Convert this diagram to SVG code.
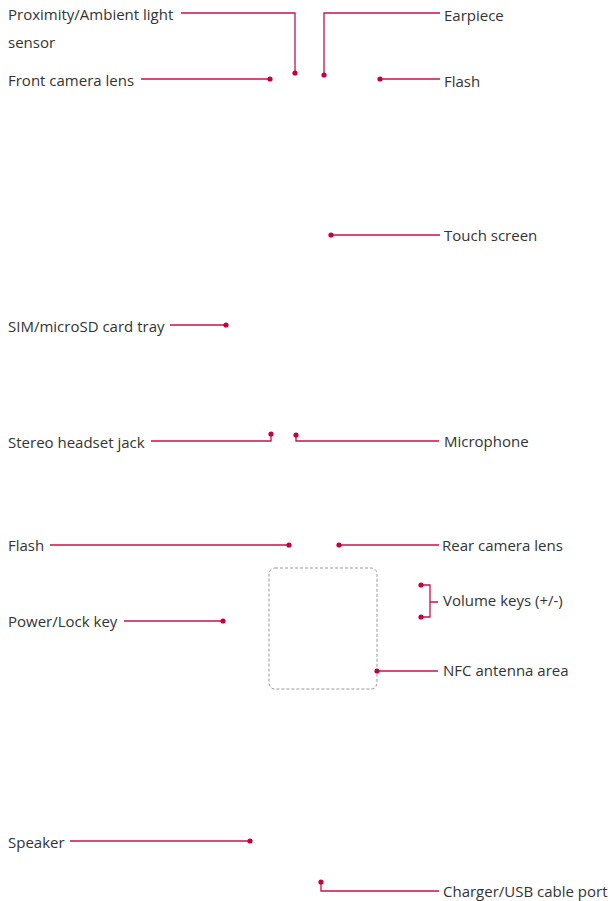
<svg xmlns="http://www.w3.org/2000/svg" width="612" height="901" viewBox="0 0 612 901">
<style>
.t{font-family:"Open Sans","Noto Sans",sans-serif;font-size:15px;fill:#333}
.c{fill:none;stroke:#c8104a;stroke-width:1.3}
.d{fill:#c4003f}
.nfc{fill:none;stroke:#999;stroke-width:1;stroke-dasharray:3 2}
</style>
<rect width="612" height="901" fill="#fff"/>
<g id="nfc-area"><rect class="nfc" x="269" y="568" width="108" height="121" rx="6"/></g>
<g id="connectors">
<path class="c" d="M181 13H295V73"/>
<path class="c" d="M141 79H270"/>
<path class="c" d="M440 13H324V75"/>
<path class="c" d="M380 79H440"/>
<path class="c" d="M331 235H440"/>
<path class="c" d="M170 325H226"/>
<path class="c" d="M151 441H271V434"/>
<path class="c" d="M296 435V441H439"/>
<path class="c" d="M50 545H289"/>
<path class="c" d="M339 545H439"/>
<path class="c" d="M421 585H430V617H421M430 602H438"/>
<path class="c" d="M124 621H223"/>
<path class="c" d="M377 671H438"/>
<path class="c" d="M70 841H250"/>
<path class="c" d="M321 882V891H439"/>
</g>
<g id="dots">
<circle class="d" cx="295" cy="73" r="2.6"/>
<circle class="d" cx="270" cy="79" r="2.6"/>
<circle class="d" cx="324" cy="75" r="2.6"/>
<circle class="d" cx="380" cy="79" r="2.6"/>
<circle class="d" cx="331" cy="235" r="2.6"/>
<circle class="d" cx="226" cy="325" r="2.6"/>
<circle class="d" cx="271" cy="434" r="2.6"/>
<circle class="d" cx="296" cy="435" r="2.6"/>
<circle class="d" cx="289" cy="545" r="2.6"/>
<circle class="d" cx="339" cy="545" r="2.6"/>
<circle class="d" cx="421" cy="585" r="2.6"/>
<circle class="d" cx="421" cy="617" r="2.6"/>
<circle class="d" cx="223" cy="621" r="2.6"/>
<circle class="d" cx="377" cy="671" r="2.6"/>
<circle class="d" cx="250" cy="841" r="2.6"/>
<circle class="d" cx="321" cy="882" r="2.6"/>
</g>
<g id="proximity"><text class="t" x="8" y="20">Proximity/Ambient light</text><text class="t" x="8" y="48">sensor</text></g>
<g id="front-camera"><text class="t" x="8" y="86">Front camera lens</text></g>
<g id="earpiece"><text class="t" x="444" y="21">Earpiece</text></g>
<g id="flash-front"><text class="t" x="444" y="87">Flash</text></g>
<g id="touch-screen"><text class="t" x="444" y="241">Touch screen</text></g>
<g id="sim-tray"><text class="t" x="8" y="332">SIM/microSD card tray</text></g>
<g id="headset-jack"><text class="t" x="8" y="448">Stereo headset jack</text></g>
<g id="microphone"><text class="t" x="444" y="447">Microphone</text></g>
<g id="flash-rear"><text class="t" x="8" y="551">Flash</text></g>
<g id="rear-camera"><text class="t" x="442" y="551">Rear camera lens</text></g>
<g id="volume-keys"><text class="t" x="443" y="606">Volume keys (+/-)</text></g>
<g id="power-key"><text class="t" x="8" y="627">Power/Lock key</text></g>
<g id="nfc"><text class="t" x="443" y="676">NFC antenna area</text></g>
<g id="speaker"><text class="t" x="8" y="848">Speaker</text></g>
<g id="charger"><text class="t" x="443" y="897">Charger/USB cable port</text></g>
</svg>
